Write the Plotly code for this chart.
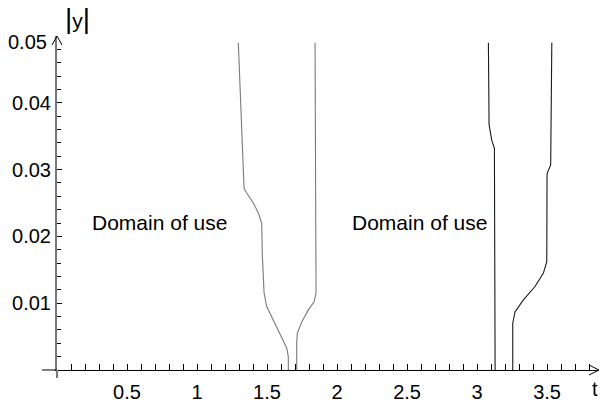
import plotly.graph_objects as go

# Boundary curves of the region of use, (t, |y|) pairs
left_inner_t = [1.295, 1.336, 1.355, 1.402, 1.438, 1.462, 1.466, 1.479, 1.498, 1.545, 1.605, 1.641, 1.652, 1.652]
left_inner_y = [0.0490, 0.0272, 0.0265, 0.0250, 0.0235, 0.0220, 0.0175, 0.0115, 0.0095, 0.0075, 0.0050, 0.00325, 0.0020, 0.0]

left_outer_t = [1.843, 1.850, 1.836, 1.795, 1.748, 1.716, 1.712, 1.712]
left_outer_y = [0.0490, 0.0115, 0.0102, 0.0090, 0.0072, 0.0055, 0.0040, 0.0]

right_inner_t = [3.081, 3.086, 3.105, 3.124, 3.129]
right_inner_y = [0.0490, 0.0367, 0.0344, 0.0332, 0.0]

right_outer_t = [3.534, 3.526, 3.500, 3.498, 3.474, 3.414, 3.331, 3.271, 3.255, 3.255]
right_outer_y = [0.0490, 0.0307, 0.0294, 0.0162, 0.0145, 0.0125, 0.0105, 0.0087, 0.0070, 0.0]

x_ticks = [0.5, 1, 1.5, 2, 2.5, 3, 3.5]
x_tick_text = ["0.5", "1", "1.5", "2", "2.5", "3", "3.5"]
y_ticks = [0.01, 0.02, 0.03, 0.04, 0.05]
y_tick_text = ["0.01", "0.02", "0.03", "0.04", ""]

region_label = "Domain of use"
region_label_t = [0.235, 2.09]
region_label_y = [0.0221, 0.0221]

GRAY = "#7a7a7a"
DARK = "#1a1a1a"
TICK_FONT = dict(family="Liberation Sans, Arial, sans-serif", size=20, color="black")
TEXT_FONT = dict(family="Liberation Sans, Arial, sans-serif", size=21, color="black")

fig = go.Figure()
for tt, yy, col in [
    (left_inner_t, left_inner_y, GRAY),
    (left_outer_t, left_outer_y, GRAY),
    (right_inner_t, right_inner_y, DARK),
    (right_outer_t, right_outer_y, DARK),
]:
    fig.add_trace(go.Scatter(x=tt, y=yy, mode="lines",
                             line=dict(color=col, width=1.1), hoverinfo="skip"))

for tx, ty in zip(region_label_t, region_label_y):
    fig.add_annotation(x=tx, y=ty, xref="x", yref="y", text=region_label,
                       showarrow=False, xanchor="left", yanchor="middle", font=TEXT_FONT)

# 0.05 label sits a little below the arrow tip
fig.add_annotation(x=0, y=0.05, xref="paper", yref="y", text="0.05", showarrow=False,
                   xanchor="right", yanchor="middle", xshift=-8, yshift=-6, font=TICK_FONT)

# axis names
fig.add_annotation(x=0, y=1, xref="paper", yref="paper",
                   text="<span style='font-size:28px'>|</span>y<span style='font-size:28px'>|</span>",
                   showarrow=False, xanchor="left", yanchor="middle", xshift=6, yshift=18,
                   font=TEXT_FONT)
fig.add_annotation(x=1, y=0, xref="paper", yref="paper", text="t", showarrow=False,
                   xanchor="right", yanchor="middle", xshift=1, yshift=-19, font=TICK_FONT)

# axis line extensions past the origin
fig.add_shape(type="line", xref="paper", yref="paper", x0=-15 / 542, x1=0, y0=0, y1=0,
              line=dict(color="black", width=1))
fig.add_shape(type="line", xref="paper", yref="paper", x0=0, x1=0, y0=-8 / 334, y1=0,
              line=dict(color="#777777", width=2))

# open arrowheads at the ends of both axes
fig.add_shape(type="path", xref="paper", yref="paper", xsizemode="pixel", ysizemode="pixel",
              xanchor=1, yanchor=0, path="M-10,5 L0,0 L-10,-5",
              line=dict(color="black", width=1))
fig.add_shape(type="path", xref="paper", yref="paper", xsizemode="pixel", ysizemode="pixel",
              xanchor=0, yanchor=1, path="M-5,-9 L0,0 L5,-9",
              line=dict(color="black", width=1))

fig.update_layout(
    width=601, height=402,
    margin=dict(l=57, r=2, t=36, b=32, autoexpand=False),
    paper_bgcolor="white", plot_bgcolor="white",
    showlegend=False,
    xaxis=dict(range=[0, 3.871], showgrid=False, zeroline=False, automargin=False,
               showline=True, linecolor="black", linewidth=1,
               ticks="inside", ticklen=6, tickcolor="black", tickwidth=1,
               tickvals=x_ticks, ticktext=x_tick_text, tickfont=TICK_FONT,
               ticklabelstandoff=4,
               minor=dict(ticks="inside", ticklen=6, tickcolor="black", tick0=0, dtick=0.1,
                          showgrid=False)),
    yaxis=dict(range=[0, 0.05], showgrid=False, zeroline=False, automargin=False,
               showline=True, linecolor="#777777", linewidth=2,
               ticks="inside", ticklen=5, tickcolor="black", tickwidth=1,
               tickvals=y_ticks, ticktext=y_tick_text, tickfont=TICK_FONT,
               minor=dict(ticks="inside", ticklen=3.5, tickcolor="black", tick0=0, dtick=0.002,
                          showgrid=False)),
)

fig.write_html("out.html")
